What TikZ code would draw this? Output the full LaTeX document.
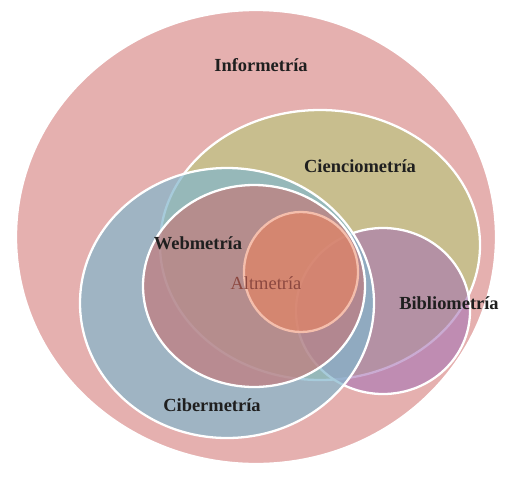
\documentclass[tikz,border=0pt]{standalone}
\usepackage{fontspec}
\setmainfont{Liberation Serif}
\usetikzlibrary{positioning}
\definecolor{infopink}{RGB}{229,176,175}
\definecolor{ciencolive}{RGB}{189,196,129}
\definecolor{biblpurple}{RGB}{167,116,180}
\definecolor{ciberblue}{RGB}{130,182,204}
\definecolor{webrose}{RGB}{202,113,112}
\definecolor{altsalmon}{RGB}{233,130,93}
\definecolor{altline}{RGB}{244,190,172}
\definecolor{alttext}{RGB}{140,72,64}

\begin{document}
\begin{tikzpicture}[
  x=0.02cm, y=-0.02cm,
  set/.style={draw=white, line width=1.3pt},
  lbl/.style={font=\bfseries\fontsize{10.5}{12}\selectfont, text=black!88},
]
\useasboundingbox (0,0) rectangle (530,477);

% ---- the sets (drawn back to front) ----
\draw[set, fill=infopink] (256,237) ellipse [x radius=240, y radius=227];
\draw[set, fill=ciencolive, fill opacity=0.7] (320,245) ellipse [x radius=160, y radius=135];
\draw[set, fill=biblpurple, fill opacity=0.6] (383,311) ellipse [x radius=87, y radius=83];
\draw[set, fill=ciberblue, fill opacity=0.7] (227,303) ellipse [x radius=147, y radius=135];
\draw[set, fill=webrose, fill opacity=0.6] (254,286) ellipse [x radius=111, y radius=101];
\draw[set, draw=altline, fill=altsalmon, fill opacity=0.6] (301,272) ellipse [x radius=57, y radius=60];

% ---- labels ----
\node[lbl] (info)  at (261,65)  {Informetría};
\node[lbl] (cien)  at (360,166) {Cienciometría};
\node[lbl] (web)   at (198,243) {Webmetría};
\node[lbl, font=\fontsize{10.5}{12}\selectfont, text=alttext] (alt) at (266,283) {Altmetría};
\node[lbl] (bibl)  at (449,303) {Bibliometría};
\node[lbl] (ciber) at (212,405) {Cibermetría};
\end{tikzpicture}
\end{document}
